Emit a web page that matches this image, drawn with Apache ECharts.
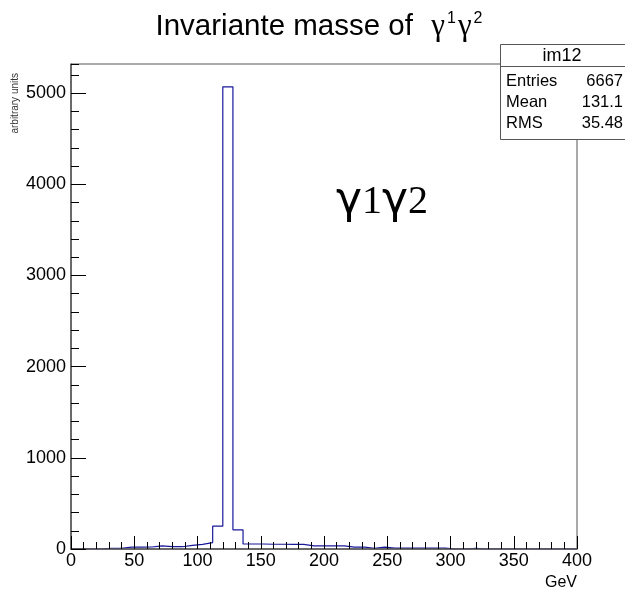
<!DOCTYPE html>
<html>
<head>
<meta charset="utf-8">
<script src="https://cdn.jsdelivr.net/npm/echarts@6/dist/echarts.min.js"></script>
<style>
    html, body { margin: 0; padding: 0; background: #fff; }
    #main { width: 625px; height: 593px; }
</style>
</head>
<body>
<div id="main"></div>
<script>
// histogram im12: 50 bins of 8 GeV from 0 to 400
var binWidth = 8;
var xMin = 0;
var xMax = 400;
var counts = [
    0, 0, 0, 8, 8, 20, 20, 22, 35, 25,
    25, 40, 50, 70, 250, 5070, 210, 55, 55, 52,
    52, 50, 50, 35, 35, 35, 35, 20, 20, 8,
    20, 10, 10, 10, 10, 10, 10, 0, 0, 8,
    0, 0, 0, 0, 0, 0, 0, 0, 0, 0
];
var yMax = 5320;
var statLabels = ["Entries", "Mean", "RMS"];
var statValues = ["6667", "131.1", "35.48"];
var histName = "im12";

var sans = "Liberation Sans";
var serif = "Liberation Serif";
var axisColor = "#555";
var histColor = "#18189a";

// step points at the low edge of each bin, plus the closing edge
var points = [];
for (var i = 0; i < counts.length; i++) {
    points.push([xMin + i * binWidth, counts[i]]);
}
points.push([xMax, counts[counts.length - 1]]);

var chart = echarts.init(document.getElementById("main"));

var statTexts = [];
for (var k = 0; k < statLabels.length; k++) {
    statTexts.push({
        type: "text", x: 506, y: 81 + k * 21.3,
        style: { text: statLabels[k], font: "16.5px " + sans, fill: "#000", align: "left", verticalAlign: "middle" }
    });
    statTexts.push({
        type: "text", x: 623, y: 81 + k * 21.3,
        style: { text: statValues[k], font: "16.5px " + sans, fill: "#000", align: "right", verticalAlign: "middle" }
    });
}

var option = {
    animation: false,
    backgroundColor: "#fff",
    grid: {
        left: 71, right: 48, top: 64, bottom: 44,
        show: true, borderColor: axisColor, borderWidth: 1
    },
    xAxis: {
        type: "value",
        min: xMin, max: xMax, interval: 50,
        z: 5,
        name: "GeV",
        nameLocation: "end",
        nameGap: 0,
        nameTextStyle: { fontFamily: sans, fontSize: 16, color: "#000", align: "right", verticalAlign: "top", padding: [26, 0, 0, 0] },
        axisLine: { show: true, lineStyle: { color: axisColor, width: 1.5 } },
        axisTick: { show: true, inside: true, length: 13, lineStyle: { color: "#000" } },
        minorTick: { show: true, splitNumber: 5, length: 7, lineStyle: { color: "#000" } },
        splitLine: { show: false },
        minorSplitLine: { show: false },
        axisLabel: { fontFamily: sans, fontSize: 18, color: "#000", margin: 3 }
    },
    yAxis: [
        {
            type: "value",
            min: 0, max: yMax, interval: 1000,
            z: 5,
            axisLine: { show: true, lineStyle: { color: axisColor, width: 1.5 } },
            axisTick: { show: true, inside: true, length: 15, lineStyle: { color: "#000" } },
            splitLine: { show: false },
            axisLabel: {
                fontFamily: sans, fontSize: 18, color: "#000", margin: 5, showMaxLabel: false,
                formatter: function (v) { return String(v); }
            }
        },
        {
            // minor ticks every 200
            type: "value",
            position: "left",
            min: 0, max: yMax, interval: 200,
            z: 5,
            axisLine: { show: false },
            axisTick: { show: true, inside: true, length: 8, lineStyle: { color: "#000" } },
            splitLine: { show: false },
            axisLabel: { show: false }
        }
    ],
    series: [
        {
            name: histName,
            type: "line",
            step: "end",
            symbol: "none",
            data: points,
            lineStyle: { color: histColor, width: 1.2 },
            z: 2
        }
    ],
    graphic: [
        {
            type: "text", x: 319, y: 27, z: 10,
            style: {
                text: "{a|Invariante masse of  }{g|γ}{s|1}{g|γ}{s|2}",
                align: "center", verticalAlign: "middle",
                rich: {
                    a: { fontFamily: sans, fontSize: 29.5, fill: "#000", lineHeight: 32 },
                    g: { fontFamily: serif, fontSize: 31, fill: "#000", lineHeight: 32, padding: [0, 2, 0, 2] },
                    s: { fontFamily: sans, fontSize: 16, fill: "#000", verticalAlign: "top", lineHeight: 20 }
                }
            }
        },
        {
            type: "text", x: 15, y: 73, rotation: Math.PI / 2, z: 10,
            style: { text: "arbitrary units", font: "10px " + sans, fill: "#333", align: "right", verticalAlign: "middle" }
        },
        {
            type: "text", x: 382, y: 202, z: 10,
            style: {
                text: "{g|γ}{d|1}{g|γ}{d|2}",
                align: "center", verticalAlign: "middle",
                rich: {
                    g: { fontFamily: "DejaVu Sans", fontSize: 44, fill: "#000", lineHeight: 50 },
                    d: { fontFamily: serif, fontSize: 40, fill: "#000", lineHeight: 50 }
                }
            }
        },
        {
            type: "group", z: 20,
            children: [
                {
                    type: "rect",
                    shape: { x: 500.5, y: 44.5, width: 140, height: 95 },
                    style: { fill: "#fff", stroke: axisColor, lineWidth: 1 }
                },
                {
                    type: "line",
                    shape: { x1: 500.5, y1: 66.5, x2: 640, y2: 66.5 },
                    style: { stroke: axisColor, lineWidth: 1 }
                },
                {
                    type: "text", x: 562, y: 56,
                    style: { text: histName, font: "18px " + sans, fill: "#000", align: "center", verticalAlign: "middle" }
                }
            ].concat(statTexts)
        }
    ]
};

chart.setOption(option);
</script>
</body>
</html>
